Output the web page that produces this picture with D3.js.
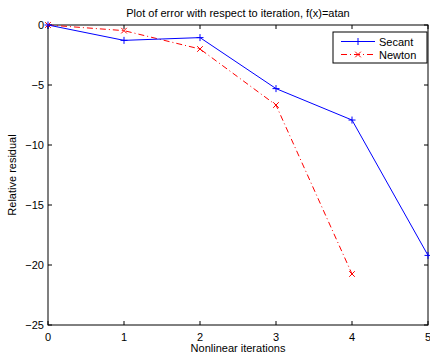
<!DOCTYPE html>
<html><head><meta charset="utf-8">
<script src="https://cdn.jsdelivr.net/npm/d3@7"></script>
<style>body{margin:0;background:#fff}svg{display:block}text{font-family:"Liberation Sans",Arial,sans-serif}</style>
</head><body><svg width="430" height="355"></svg>
<script>
const iterations = [0,1,2,3,4,5];
const secant = [0,-1.28,-1.05,-5.3,-7.92,-19.2];
const newtonIter = [0,1,2,3,4];
const newton = [0,-0.47,-2.0,-6.67,-20.75];
const xTicks = [0,1,2,3,4,5];
const yTicks = [0,-5,-10,-15,-20,-25];

const svg = d3.select("svg");
const L=48,R=428,T=25,B=325;
const x = d3.scaleLinear().domain([0,5]).range([L,R]);
const y = d3.scaleLinear().domain([-25,0]).range([B,T]);

// ticks inward on all sides
const g = svg.append("g");
const tl=4;
xTicks.forEach(v=>{
  g.append("line").attr("x1",x(v)).attr("x2",x(v)).attr("y1",B).attr("y2",B-tl).attr("stroke","#000");
  g.append("line").attr("x1",x(v)).attr("x2",x(v)).attr("y1",T).attr("y2",T+tl).attr("stroke","#000");
  g.append("text").attr("x",x(v)).attr("y",B+16).attr("text-anchor","middle").attr("font-size",11).text(v);
});
yTicks.forEach(v=>{
  g.append("line").attr("x1",L).attr("x2",L+tl).attr("y1",y(v)).attr("y2",y(v)).attr("stroke","#000");
  g.append("line").attr("x1",R).attr("x2",R-tl).attr("y1",y(v)).attr("y2",y(v)).attr("stroke","#000");
  g.append("text").attr("x",L-4).attr("y",y(v)+4).attr("text-anchor","end").attr("font-size",11).text(v===0?"0":"\u2212"+Math.abs(v));
});
svg.append("rect").attr("x",L).attr("y",T).attr("width",R-L).attr("height",B-T).attr("fill","none").attr("stroke","#000").attr("stroke-width",1);

const line = d3.line().x(d=>x(d[0])).y(d=>y(d[1]));
const sData = iterations.map((v,i)=>[v,secant[i]]);
const nData = newtonIter.map((v,i)=>[v,newton[i]]);

svg.append("path").attr("d",line(nData)).attr("fill","none").attr("stroke","#ff0000").attr("stroke-width",1).attr("stroke-dasharray","6,3,1,3");
svg.append("path").attr("d",line(sData)).attr("fill","none").attr("stroke","#0000ff").attr("stroke-width",1);

const ms=3.5;
function plus(sel,cx,cy,c){sel.append("path").attr("d",`M${cx-ms},${cy}H${cx+ms}M${cx},${cy-ms}V${cy+ms}`).attr("stroke",c).attr("stroke-width",1).attr("fill","none");}
function cross(sel,cx,cy,c){const m=ms*0.8;sel.append("path").attr("d",`M${cx-m},${cy-m}L${cx+m},${cy+m}M${cx-m},${cy+m}L${cx+m},${cy-m}`).attr("stroke",c).attr("stroke-width",1).attr("fill","none");}
nData.forEach(d=>cross(svg,x(d[0]),y(d[1]),"#ff0000"));
sData.forEach(d=>plus(svg,x(d[0]),y(d[1]),"#0000ff"));

// legend
const lg = svg.append("g");
lg.append("rect").attr("x",333).attr("y",32).attr("width",94).attr("height",31).attr("fill","#fff").attr("stroke","#000").attr("stroke-width",1);
lg.append("line").attr("x1",341).attr("x2",375).attr("y1",41.5).attr("y2",41.5).attr("stroke","#0000ff");
plus(lg,358,41.5,"#0000ff");
lg.append("text").attr("x",379).attr("y",45.5).attr("font-size",11).text("Secant");
lg.append("line").attr("x1",341).attr("x2",375).attr("y1",54.5).attr("y2",54.5).attr("stroke","#ff0000").attr("stroke-dasharray","6,3,1,3");
cross(lg,358,54.5,"#ff0000");
lg.append("text").attr("x",379).attr("y",58.5).attr("font-size",11).text("Newton");

svg.append("text").attr("x",(L+R)/2).attr("y",17).attr("text-anchor","middle").attr("font-size",11).text("Plot of error with respect to iteration, f(x)=atan");
svg.append("text").attr("x",(L+R)/2).attr("y",352).attr("text-anchor","middle").attr("font-size",11).text("Nonlinear iterations");
svg.append("text").attr("transform",`translate(16,${(T+B)/2}) rotate(-90)`).attr("text-anchor","middle").attr("font-size",11).text("Relative residual");
</script></body></html>
